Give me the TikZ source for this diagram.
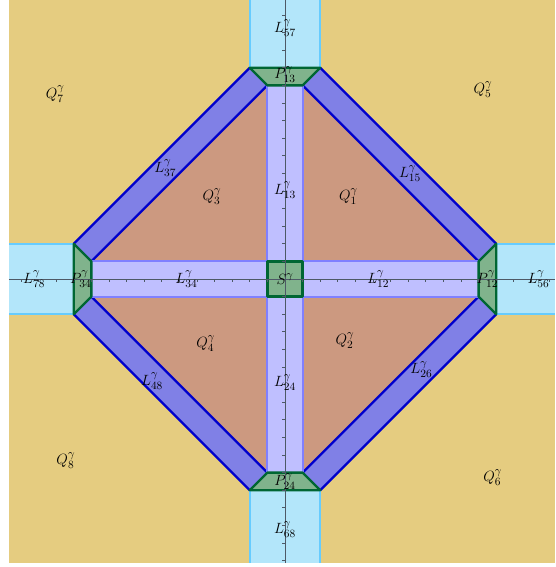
\documentclass[tikz,border=0pt]{standalone}
\usepackage{xcolor}
\definecolor{ggyellow}{HTML}{E5CC80}
\definecolor{ggbrown}{HTML}{CC9980}
\definecolor{ggband}{HTML}{8080E6}
\definecolor{ggnavy}{HTML}{0000CC}
\definecolor{gglav}{HTML}{BFBFFF}
\definecolor{gglavline}{HTML}{8080FF}
\definecolor{gggreen}{HTML}{80B38C}
\definecolor{ggdkgreen}{HTML}{006633}
\definecolor{ggsky}{HTML}{B3E6FA}
\definecolor{ggskyline}{HTML}{66CCFF}
\definecolor{ggaxis}{HTML}{4D5966}
\usepackage{tikz}
\usetikzlibrary{positioning}

\begin{document}
\begin{tikzpicture}[
  x=0.5cm, y=0.5cm,
  quad/.style={fill=ggbrown},
  band/.style={fill=ggband},
  bandline/.style={draw=ggnavy, line width=1.9pt},
  strip/.style={fill=gglav, draw=gglavline, line width=1.6pt},
  sky/.style={fill=ggsky},
  skyline/.style={draw=ggskyline, line width=2pt},
  patch/.style={fill=gggreen, draw=ggdkgreen, line width=1.9pt, line join=round},
  axis/.style={draw=ggaxis, line width=0.6pt},
  lab/.style={font=\fontsize{13}{15}\selectfont, inner sep=0pt}
]
  \useasboundingbox (-16.19,-16.36) rectangle (15.34,15.85);
  \fill[ggyellow] (-15.68,-16.14) rectangle (15.34,15.85);

  % outer strips
  \fill[sky] (-2,12) rectangle (2,15.85);
  \fill[sky] (-2,-12) rectangle (2,-16.14);
  \fill[sky] (12,-2) rectangle (15.34,2);
  \fill[sky] (-12,-2) rectangle (-15.68,2);
  \draw[skyline] (-2,12) -- (-2,15.85) (2,12) -- (2,15.85);
  \draw[skyline] (-2,-12) -- (-2,-16.14) (2,-12) -- (2,-16.14);
  \draw[skyline] (12,-2) -- (15.34,-2) (12,2) -- (15.34,2);
  \draw[skyline] (-12,-2) -- (-15.68,-2) (-12,2) -- (-15.68,2);

  % inner triangles
  \fill[quad] (1,1) -- (11,1) -- (1,11) -- cycle;
  \fill[quad] (-1,1) -- (-11,1) -- (-1,11) -- cycle;
  \fill[quad] (1,-1) -- (11,-1) -- (1,-11) -- cycle;
  \fill[quad] (-1,-1) -- (-11,-1) -- (-1,-11) -- cycle;

  % diagonal bands
  \fill[band] (2,12) -- (12,2) -- (11,1) -- (1,11) -- cycle;
  \fill[band] (-2,12) -- (-12,2) -- (-11,1) -- (-1,11) -- cycle;
  \fill[band] (2,-12) -- (12,-2) -- (11,-1) -- (1,-11) -- cycle;
  \fill[band] (-2,-12) -- (-12,-2) -- (-11,-1) -- (-1,-11) -- cycle;
  \draw[bandline] (2,12) -- (12,2) (1,11) -- (11,1);
  \draw[bandline] (-2,12) -- (-12,2) (-1,11) -- (-11,1);
  \draw[bandline] (2,-12) -- (12,-2) (1,-11) -- (11,-1);
  \draw[bandline] (-2,-12) -- (-12,-2) (-1,-11) -- (-11,-1);

  % inner strips
  \draw[strip] (-1,1) rectangle (1,11);
  \draw[strip] (-1,-1) rectangle (1,-11);
  \draw[strip] (1,-1) rectangle (11,1);
  \draw[strip] (-1,-1) rectangle (-11,1);

  % corner patches
  \draw[patch] (-2,12) -- (2,12) -- (1,11) -- (-1,11) -- cycle;
  \draw[patch] (-2,-12) -- (2,-12) -- (1,-11) -- (-1,-11) -- cycle;
  \draw[patch] (12,2) -- (12,-2) -- (11,-1) -- (11,1) -- cycle;
  \draw[patch] (-12,2) -- (-12,-2) -- (-11,-1) -- (-11,1) -- cycle;
  \draw[patch] (-1,-1) rectangle (1,1);

  % axes
  \draw[axis] (-15.68,0) -- (15.34,0);
  \draw[axis] (0,-16.14) -- (0,15.85);
  \foreach \i in {-15,...,-1,1,2,...,15} {
    \draw[axis] (\i,0) -- (\i,-0.17);
  }
  \foreach \i in {-16,...,-1,1,2,...,15} {
    \draw[axis] (0,\i) -- (-0.17,\i);
  }

  % labels
  \node[lab] (q1) at (3.6,4.7) {$Q_1^{\gamma}$};
  \node[lab] (q2) at (3.4,-3.5) {$Q_2^{\gamma}$};
  \node[lab] (q3) at (-4.15,4.7) {$Q_3^{\gamma}$};
  \node[lab] (q4) at (-4.5,-3.65) {$Q_4^{\gamma}$};
  \node[lab] (q5) at (11.25,10.75) {$Q_5^{\gamma}$};
  \node[lab] (q6) at (11.8,-11.3) {$Q_6^{\gamma}$};
  \node[lab] (q7) at (-13.05,10.5) {$Q_7^{\gamma}$};
  \node[lab] (q8) at (-12.45,-10.3) {$Q_8^{\gamma}$};

  \node[lab] (l13) at (0,5.05) {$L_{13}^{\gamma}$};
  \node[lab] (l24) at (0,-5.9) {$L_{24}^{\gamma}$};
  \node[lab] (l12) at (5.3,0) {$L_{12}^{\gamma}$};
  \node[lab] (l34) at (-5.6,0) {$L_{34}^{\gamma}$};
  \node[lab] (l15) at (7.1,6) {$L_{15}^{\gamma}$};
  \node[lab] (l37) at (-6.8,6.3) {$L_{37}^{\gamma}$};
  \node[lab] (l26) at (7.75,-5.15) {$L_{26}^{\gamma}$};
  \node[lab] (l48) at (-7.55,-5.8) {$L_{48}^{\gamma}$};
  \node[lab] (l57) at (0,14.25) {$L_{57}^{\gamma}$};
  \node[lab] (l68) at (0,-14.25) {$L_{68}^{\gamma}$};
  \node[lab] (l56) at (14.4,0) {$L_{56}^{\gamma}$};
  \node[lab] (l78) at (-14.25,0) {$L_{78}^{\gamma}$};

  \node[lab] (p13) at (0,11.6) {$P_{13}^{\gamma}$};
  \node[lab] (p24) at (0,-11.5) {$P_{24}^{\gamma}$};
  \node[lab] (p12) at (11.5,0) {$P_{12}^{\gamma}$};
  \node[lab] (p34) at (-11.6,0) {$P_{34}^{\gamma}$};
  \node[lab] (s) at (0,0) {$S^{\gamma}$};
\end{tikzpicture}
\end{document}
